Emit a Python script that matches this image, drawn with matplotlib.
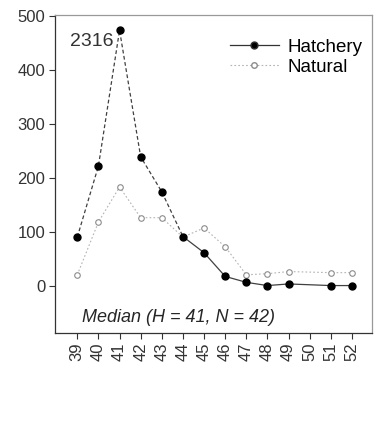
import matplotlib
matplotlib.use("Agg")
import matplotlib.pyplot as plt
from matplotlib.lines import Line2D

plt.rcParams['font.family'] = ['Liberation Sans', 'DejaVu Sans']

# length classes (cm)
lengths = [39, 40, 41, 42, 43, 44, 45, 46, 47, 48, 49, 50, 51, 52]

# hatchery counts (41 cm is off scale: 2316, drawn at the top)
hatch_x = [39, 40, 41, 42, 43, 44, 45, 46, 47, 48, 49, 51, 52]
hatch_y = [90, 222, 474, 239, 174, 91, 61, 17, 6, 0, 3, 0, 0]
hatch_peak_label = "2316"

# natural counts
nat_x = [39, 40, 41, 42, 43, 44, 45, 46, 47, 48, 49, 51, 52]
nat_y = [20, 118, 183, 126, 126, 90, 107, 72, 20, 22, 26, 24, 24]

fig = plt.figure(figsize=(3.75, 4.22), dpi=100)
ax = fig.add_axes([0.147, 0.211, 0.845, 0.753])

# hatchery: dashed through the peak, solid on the tail
ax.plot(hatch_x[:6], hatch_y[:6], color="0.25", lw=0.9, ls=(0, (3, 2)), zorder=3)
ax.plot(hatch_x[5:], hatch_y[5:], color="0.25", lw=0.9, zorder=3)
ax.plot(hatch_x, hatch_y, ls="none", marker="o", ms=5, color="black", zorder=4)

ax.plot(nat_x, nat_y, color="0.7", lw=0.8, ls=(0, (1.5, 2)), marker="o",
        ms=4, mfc="white", mec="0.55", mew=0.8, zorder=2)

ax.text(40.7, hatch_y[2] - 20, hatch_peak_label, fontsize=14, va="center",
        ha="right", color="0.2")
ax.text(0.085, 0.035, "Median (H = 41, N = 42)", transform=ax.transAxes,
        fontsize=13, style="italic", color="0.15")

ax.set_xlim(37.95, 52.95)
ax.set_ylim(-88, 502)
ax.set_xticks(lengths)
ax.set_xticklabels([str(v) for v in lengths], rotation=90)
ax.set_yticks([0, 100, 200, 300, 400, 500])
ax.tick_params(labelsize=12, direction="out", length=4, width=0.8,
               colors="0.2", pad=3)
for s in ax.spines.values():
    s.set_linewidth(0.9)
    s.set_color("0.2")
ax.spines["top"].set_color("0.6")
ax.spines["right"].set_color("0.6")

handles = [
    Line2D([], [], color="0.2", lw=0.9, marker="o", ms=5, mfc="black"),
    Line2D([], [], color="0.7", lw=0.8, ls=(0, (1.5, 2)), marker="o", ms=4,
           mfc="white", mec="0.55"),
]
ax.legend(handles, ["Hatchery", "Natural"], loc="upper right", frameon=False,
          fontsize=13.5, handlelength=2.6, borderaxespad=0,
          bbox_to_anchor=(0.995, 0.95),
          labelspacing=0.15, handletextpad=0.5)

fig.savefig("out.png", dpi=100)
